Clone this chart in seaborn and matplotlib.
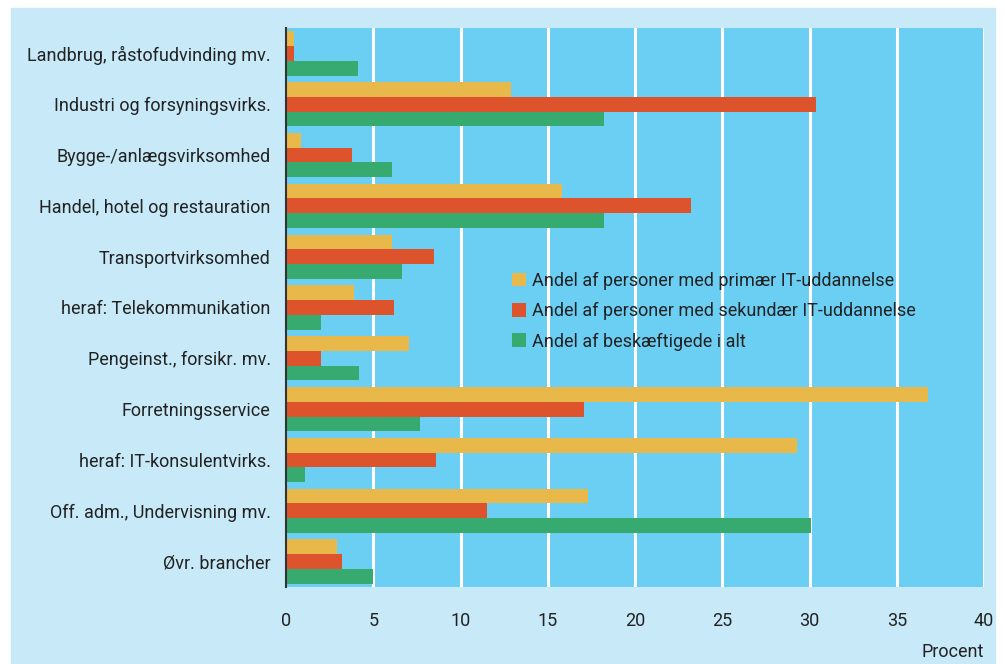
import pandas as pd
import seaborn as sns
import matplotlib.pyplot as plt
from matplotlib.patches import Rectangle

## data
brancher = ["Landbrug, råstofudvinding mv.", "Industri og forsyningsvirks.",
            "Bygge-/anlægsvirksomhed", "Handel, hotel og restauration",
            "Transportvirksomhed", "heraf: Telekommunikation",
            "Pengeinst., forsikr. mv.", "Forretningsservice",
            "heraf: IT-konsulentvirks.", "Off. adm., Undervisning mv.",
            "Øvr. brancher"]
primaer = [0.45, 12.9, 0.85, 15.8, 6.05, 3.9, 7.05, 36.8, 29.3, 17.3, 2.9]
sekundaer = [0.45, 30.4, 3.8, 23.2, 8.5, 6.2, 2.0, 17.1, 8.6, 11.5, 3.2]
i_alt = [4.1, 18.2, 6.1, 18.2, 6.65, 2.0, 4.2, 7.7, 1.1, 30.1, 5.0]
serier = ["Andel af personer med primær IT-uddannelse",
          "Andel af personer med sekundær IT-uddannelse",
          "Andel af beskæftigede i alt"]
farver = ["#e8b84a", "#dd532b", "#37aa6f"]

df = pd.concat([
    pd.DataFrame({"branche": brancher, "procent": v, "serie": s})
    for v, s in zip([primaer, sekundaer, i_alt], serier)
])

sns.set_style("white")
plt.rcParams["font.family"] = ["Roboto", "DejaVu Sans"]
plt.rcParams["text.color"] = "#222222"

fig = plt.figure(figsize=(10.05, 6.64), dpi=100, facecolor="white")
fig.patches.append(Rectangle((11 / 1005, 0), 984 / 1005, 1 - 8 / 664,
                             transform=fig.transFigure, color="#c7e9f8", zorder=-10))
ax = fig.add_axes([286 / 1005, 1 - 587 / 664, 698 / 1005, 559 / 664])
ax.set_facecolor("#6bcff4")

sns.barplot(data=df, y="branche", x="procent", hue="serie", orient="h",
            palette=farver, width=0.87, saturation=1, linewidth=0,
            ax=ax, zorder=3)

ax.set_xlim(0, 40)
ax.set_ylim(10.5, -0.5)
ax.set_xticks(range(0, 41, 5))
for x in range(5, 41, 5):
    ax.axvline(x, color="white", lw=2.2, zorder=1)
ax.tick_params(axis="both", length=0, labelsize=13, colors="#222222")
ax.tick_params(axis="x", pad=18)
ax.tick_params(axis="y", pad=11)
ax.set_xlabel("")
ax.set_ylabel("")
for s in ["top", "right", "bottom"]:
    ax.spines[s].set_visible(False)
ax.spines["left"].set_color("#333333")
ax.spines["left"].set_linewidth(1.5)
ax.spines["left"].set_zorder(5)

ax.text(1.0, -0.117, "Procent", transform=ax.transAxes, ha="right", va="center",
        fontsize=13, color="#222222")

ax.legend(loc="upper left", bbox_to_anchor=(0.3, 0.593), frameon=False,
          handlelength=0.8, handleheight=0.8, handletextpad=0.35,
          labelspacing=0.68, fontsize=13)

fig.savefig("out.png", dpi=100, facecolor="white")
